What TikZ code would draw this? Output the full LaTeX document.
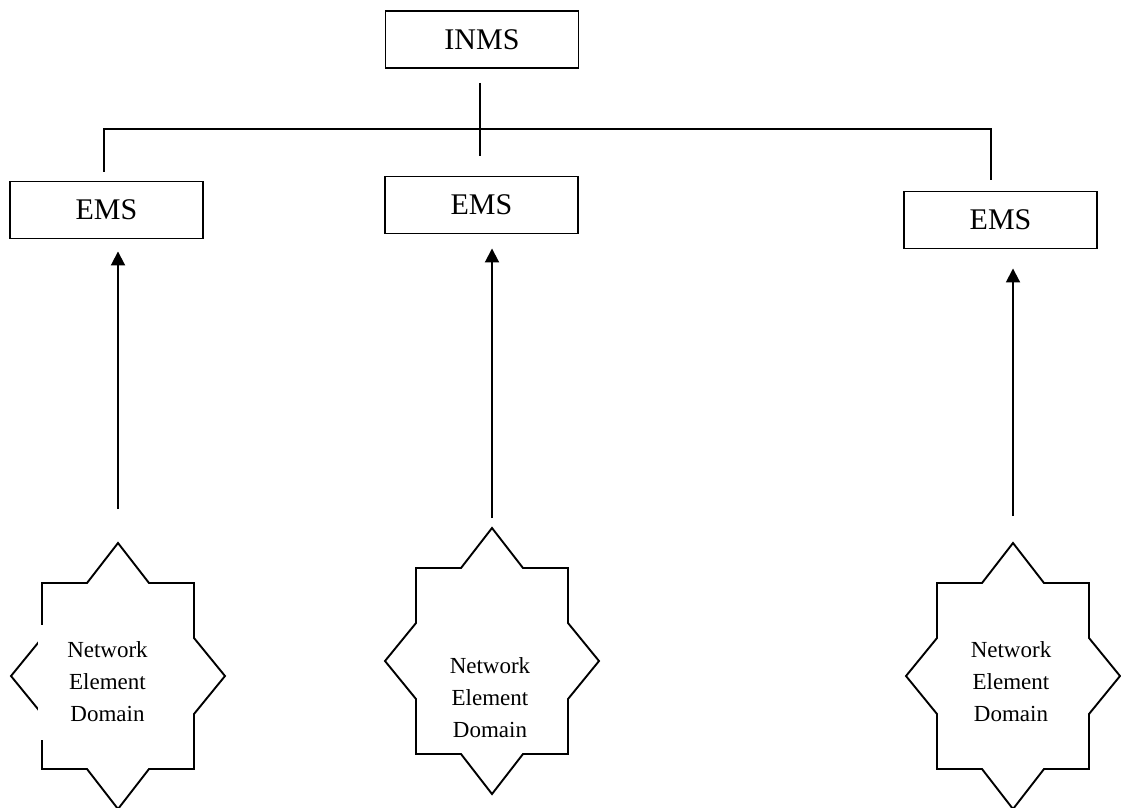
\documentclass[tikz,border=0pt]{standalone}
\usepackage{fontspec}
\setmainfont{Liberation Serif}
\usetikzlibrary{arrows.meta}

\tikzset{
  wire/.style={line width=1.9pt, black},
  mgrbox/.style={draw, line width=1.9pt, minimum width=193pt, minimum height=57pt,
    inner sep=0pt, font=\fontsize{30}{36}\selectfont},
  nelabel/.style={align=center, inner sep=0pt, fill=white,
    font=\fontsize{23}{32}\selectfont},
  uparrow/.style={wire, -{Triangle[length=14pt,width=14pt]}},
  % eight-pointed outline of a network element domain
  nestar/.pic={
    \draw[wire] (0,-133) -- (31,-93) -- (76,-93) -- (76,-38) -- (107,0)
      -- (76,38) -- (76,93) -- (31,93) -- (0,133) -- (-31,93) -- (-76,93)
      -- (-76,38) -- (-107,0) -- (-76,-38) -- (-76,-93) -- (-31,-93) -- cycle;
    \coordinate (-top) at (0,-133);
  }
}

\begin{document}
\begin{tikzpicture}[x=1pt, y=-1pt]
  \useasboundingbox (0,0) rectangle (1121,807);

  % management boxes
  \node[mgrbox] (inms) at (482,39.5) {INMS};
  \node[mgrbox] (e1) at (106.5,210) {EMS};
  \node[mgrbox] (e2) at (481.5,205) {EMS};
  \node[mgrbox] (e3) at (1000.5,220) {EMS};

  % bus between the element managers
  \coordinate (busL) at (104,129);
  \coordinate (busR) at (991,129);
  \coordinate (busM) at (480,129);
  \draw[wire, shorten <=9pt, shorten >=11pt]
    (busL |- e1.north) -- (busL) -- (busR) -- (busR |- e3.north);
  \draw[wire, shorten <=14pt, shorten >=20pt]
    (busM |- inms.south) -- (busM |- e2.north);

  % network element domains
  \pic (s1) at (118,676) {nestar};
  \pic (s2) at (492,661) {nestar};
  \pic (s3) at (1013,676) {nestar};

  \node[nelabel, minimum width=139pt, minimum height=115pt] (t1) at (107.5,682)
    {Network\\Element\\Domain};
  \node[nelabel] (t2) at (490,698) {Network\\Element\\Domain};
  \node[nelabel] (t3) at (1011,682) {Network\\Element\\Domain};

  % reporting arrows
  \draw[uparrow, shorten <=34pt, shorten >=12pt] (s1-top) -- (s1-top |- e1.south);
  \draw[uparrow, shorten <=10pt, shorten >=14pt] (s2-top) -- (s2-top |- e2.south);
  \draw[uparrow, shorten <=27pt, shorten >=19pt] (s3-top) -- (s3-top |- e3.south);
\end{tikzpicture}
\end{document}
